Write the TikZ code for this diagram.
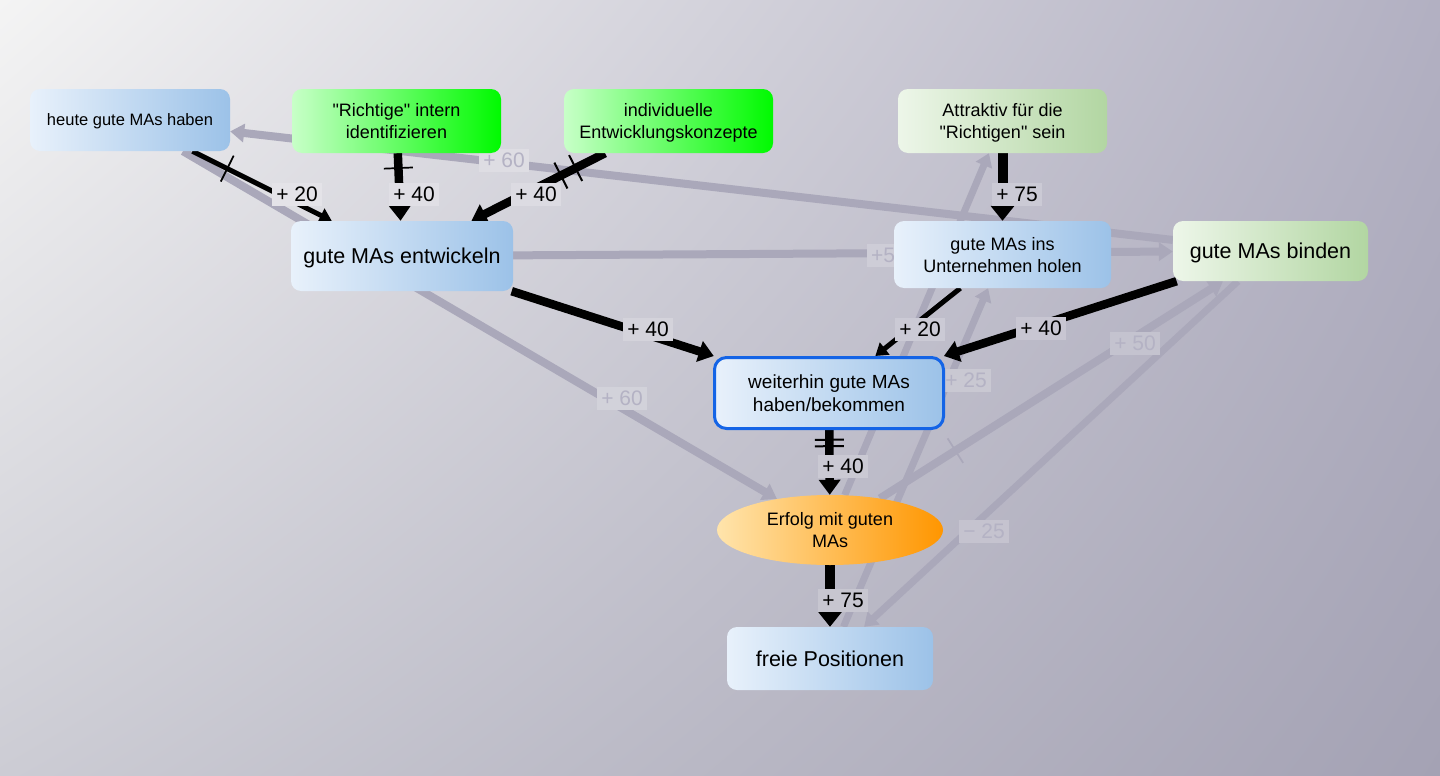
\documentclass[tikz,border=0pt]{standalone}
\usepackage{fontspec}
\setmainfont{Liberation Sans}
\usetikzlibrary{arrows.meta,shapes.geometric,decorations.markings,shadings}
\pgfdeclarelayer{bglayer}
\pgfdeclarelayer{edgelayer}
\pgfsetlayers{bglayer,edgelayer,main}

\definecolor{bgA}{RGB}{244,244,244}
\definecolor{bgB}{RGB}{178,176,194}
\definecolor{bgC}{RGB}{204,204,212}
\definecolor{bgD}{RGB}{164,162,180}
\definecolor{blueL}{RGB}{232,241,251}
\definecolor{blueR}{RGB}{156,194,232}
\definecolor{greenL}{RGB}{200,255,200}
\definecolor{greenM}{RGB}{70,255,70}
\definecolor{greenR}{RGB}{0,250,0}
\definecolor{paleL}{RGB}{237,246,233}
\definecolor{paleR}{RGB}{178,214,162}
\definecolor{orangeL}{RGB}{255,228,172}
\definecolor{orangeM}{RGB}{255,184,70}
\definecolor{orangeR}{RGB}{255,150,0}
\definecolor{wborder}{RGB}{20,100,230}
\definecolor{edgegrey}{RGB}{170,168,186}
\definecolor{glabel}{RGB}{180,178,196}

\newcommand\fsz[2]{\fontsize{#1}{#2}\selectfont}
% label background: local background colour, slightly lightened
\newcommand\lblbg[3]{%
  \pgfmathsetmacro\uu{100-#2/14.4}%
  \pgfmathsetmacro\vv{100-#3/7.76}%
  \colorlet{tmpT}{bgA!\uu!bgB}%
  \colorlet{tmpB}{bgC!\uu!bgD}%
  \colorlet{tmpM}{tmpT!\vv!tmpB}%
  \colorlet{#1}{tmpM!82!white}}

\tikzset{
  box/.style={rounded corners=10pt, inner sep=0pt, align=center, text depth=0pt},
  bluebox/.style={box, left color=blueL, right color=blueR},
  greenbox/.style={box, left color=greenL, middle color=greenM, right color=greenR},
  palebox/.style={box, left color=paleL, right color=paleR},
  bedge/.style={draw=black, line cap=butt},
  w20/.style={line width=5pt, -{Triangle[width=15pt,length=12pt]}},
  w40/.style={line width=8.5pt, -{Triangle[width=21pt,length=15pt]}},
  w75/.style={line width=10pt, -{Triangle[width=23pt,length=15pt]}},
  gedge/.style={draw=edgegrey, line width=8pt, -{Triangle[width=18pt,length=14pt]}},
  g25/.style={draw=edgegrey, line width=7pt, -{Triangle[width=17pt,length=13pt]}},
  lbl/.style={inner xsep=4pt, inner ysep=0pt, minimum height=23pt, font=\fsz{21}{24}},
  glbl/.style={lbl, text=glabel},
  tickmark/.style={postaction={decorate, decoration={markings,
      mark=at position #1 with {\draw[-, draw=black, line width=1.7pt] (0pt,-14.5pt) -- (0pt,14.5pt);}}}},
  gtickmark/.style={postaction={decorate, decoration={markings,
      mark=at position #1 with {\draw[-, draw=edgegrey, line width=1.7pt] (0pt,-14.5pt) -- (0pt,14.5pt);}}}},
  dtick/.style 2 args={postaction={decorate, decoration={markings,
      mark=at position #1 with {\draw[-, draw=black, line width=2pt] (0pt,-14.5pt) -- (0pt,14.5pt);},
      mark=at position #2 with {\draw[-, draw=black, line width=2pt] (0pt,-14.5pt) -- (0pt,14.5pt);}}}},
}

\begin{document}
\begin{tikzpicture}[x=1pt,y=-1pt]
\useasboundingbox (0,0) rectangle (1440,776);
\begin{pgfonlayer}{bglayer}
  \shade[upper left=bgA, upper right=bgB, lower left=bgC, lower right=bgD] (0,0) rectangle (1440,776);
\end{pgfonlayer}

% nodes
\node[bluebox, minimum width=200pt, minimum height=62pt, font=\fsz{16.5}{20}] (heute) at (130,120) {heute gute MAs haben};
\node[greenbox, minimum width=209pt, minimum height=64pt, font=\fsz{18}{22}] (richtige) at (396.5,121) {\textquotedbl Richtige\textquotedbl{} intern\\identifizieren};
\node[greenbox, minimum width=209pt, minimum height=64pt, font=\fsz{18}{22}] (indiv) at (668.5,121) {individuelle\\Entwicklungskonzepte};
\node[palebox, minimum width=209pt, minimum height=64pt, font=\fsz{18}{22}] (attr) at (1002.5,121) {Attraktiv für die\\\textquotedbl Richtigen\textquotedbl{} sein};
\node[bluebox, minimum width=222pt, minimum height=70pt, font=\fsz{21.5}{26}] (entw) at (402,256) {gute MAs entwickeln};
\node[bluebox, minimum width=217pt, minimum height=67pt, font=\fsz{18}{22}] (holen) at (1002.5,254.5) {gute MAs ins\\Unternehmen holen};
\node[palebox, minimum width=195pt, minimum height=60pt, font=\fsz{21.5}{26}] (binden) at (1270.5,251) {gute MAs binden};
\node[bluebox, draw=wborder, line width=3pt, rounded corners=12pt, minimum width=229pt, minimum height=71pt, font=\fsz{19}{23}] (weiter) at (829,393) {weiterhin gute MAs\\haben/bekommen};
\node[ellipse, left color=orangeL, middle color=orangeM, right color=orangeR, minimum width=226pt, minimum height=70pt, inner sep=0pt, align=center, text depth=0pt, font=\fsz{18}{22}] (erfolg) at (830,530) {Erfolg mit guten\\MAs};
\node[bluebox, minimum width=206pt, minimum height=63pt, font=\fsz{21.5}{26}] (freie) at (830,658.5) {freie Positionen};

\begin{pgfonlayer}{edgelayer}
  % grey (faded) connectors
  \draw[gedge] (binden) -- (heute);
  \draw[gedge] (heute) -- (erfolg);
  \draw[gedge] (entw) -- (binden);
  \draw[g25] (erfolg) -- (attr);
  \draw[g25] (freie) -- (holen);
  \draw[gedge, gtickmark=0.22] (erfolg) -- (binden);
  \draw[g25] (binden) -- (freie);
  % black connectors
  \draw[bedge, w20, tickmark=0.25] (heute) -- (entw);
  \draw[bedge, w40, tickmark=0.22] (richtige) -- (entw);
  \draw[bedge, w40, dtick={0.22}{0.33}] (indiv) -- (entw);
  \draw[bedge, w40] (entw) -- (weiter);
  \draw[bedge, w20] (holen) -- (weiter);
  \draw[bedge, w40] (binden) -- (weiter);
  \draw[bedge, w75] (attr) -- (holen);
  \draw[bedge, w40, dtick={0.15}{0.25}] (weiter) -- (erfolg);
  \draw[bedge, w75] (erfolg) -- (freie);
  % labels
  \lblbg{f1}{504}{160}\node[glbl, fill=f1] (g1) at (504,160) {+ 60};
  \lblbg{f2}{622}{398}\node[glbl, fill=f2] (g2) at (622,398) {+ 60};
  \lblbg{f3}{1135}{343}\node[glbl, fill=f3] (g3) at (1135,343) {+ 50};
  \lblbg{f4}{966}{380}\node[glbl, fill=f4] (g4) at (966,380) {+ 25};
  \lblbg{f5}{984}{531}\node[glbl, fill=f5] (g5) at (984,531) {− 25};
  \lblbg{f6}{889}{255}\node[glbl, fill=f6] (g6) at (889,255) {+50};
  \lblbg{k1}{297}{194}\node[lbl, fill=k1] (l1) at (297,194) {+ 20};
  \lblbg{k2}{414}{194}\node[lbl, fill=k2] (l2) at (414,194) {+ 40};
  \lblbg{k3}{536}{194}\node[lbl, fill=k3] (l3) at (536,194) {+ 40};
  \lblbg{k4}{1017}{194}\node[lbl, fill=k4] (l4) at (1017,194) {+ 75};
  \lblbg{k5}{648}{329}\node[lbl, fill=k5] (l5) at (648,329) {+ 40};
  \lblbg{k6}{920}{329}\node[lbl, fill=k6] (l6) at (920,329) {+ 20};
  \lblbg{k7}{1041}{328}\node[lbl, fill=k7] (l7) at (1041,328) {+ 40};
  \lblbg{k8}{843}{466}\node[lbl, fill=k8] (l8) at (843,466) {+ 40};
  \lblbg{k9}{843}{600}\node[lbl, fill=k9] (l9) at (843,600) {+ 75};
\end{pgfonlayer}
\end{tikzpicture}
\end{document}
